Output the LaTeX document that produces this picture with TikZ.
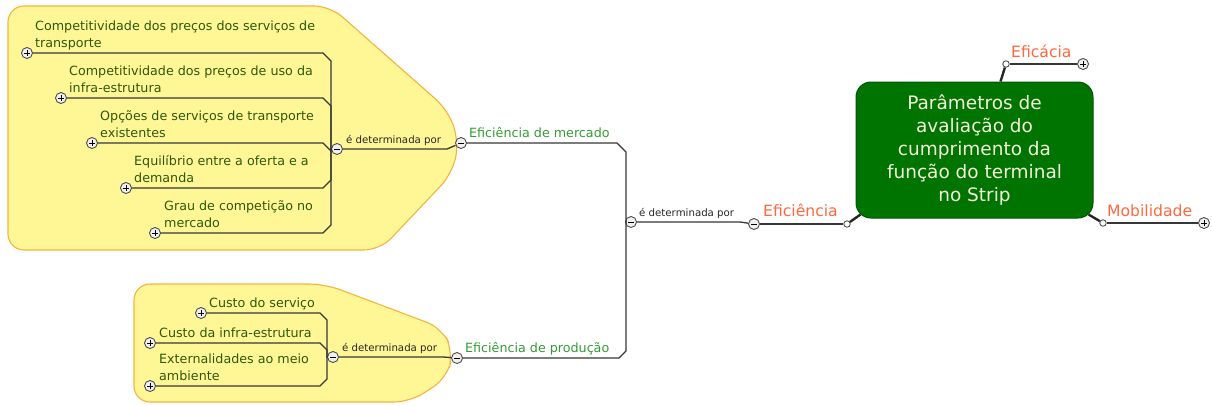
\documentclass[tikz,border=0pt]{standalone}
\usepackage{fontspec}
\setmainfont{DejaVu Sans}
\definecolor{blobfill}{RGB}{255,247,150}
\definecolor{blobdraw}{RGB}{246,178,62}
\definecolor{itemgreen}{RGB}{48,88,12}
\definecolor{midgreen}{RGB}{52,155,52}
\definecolor{orangetxt}{RGB}{255,104,62}
\definecolor{rootfill}{RGB}{0,116,0}
\definecolor{rootdraw}{RGB}{0,85,0}
\definecolor{roottxt}{RGB}{242,242,218}
\definecolor{linegray}{RGB}{55,55,55}
\begin{document}
\begin{tikzpicture}[x=1pt,y=-1pt,
  conn/.style={draw=linegray, line width=1.3pt},
  thickconn/.style={draw=black!85, line width=2.4pt},
  pm/.style={circle, draw=black!70, fill=black!6, line width=0.9pt, inner sep=0pt, minimum size=11pt},
  plusn/.style={pm, path picture={\draw[line width=1pt,black] ([xshift=-2.7pt]path picture bounding box.center) -- ([xshift=2.7pt]path picture bounding box.center) ([yshift=-2.7pt]path picture bounding box.center) -- ([yshift=2.7pt]path picture bounding box.center);}},
  minusn/.style={pm, path picture={\draw[line width=1pt,black] ([xshift=-2.7pt]path picture bounding box.center) -- ([xshift=2.7pt]path picture bounding box.center);}},
  dotn/.style={circle, draw=black!75, fill=white, line width=0.8pt, inner sep=0pt, minimum size=6.5pt},
  itemtxt/.style={anchor=south west, inner sep=0pt, align=left, text=itemgreen, font=\fontsize{12.7}{17}\selectfont, execute at end node=\strut},
  midtxt/.style={itemtxt, text=midgreen},
  orgtxt/.style={anchor=south west, inner sep=0pt, text=orangetxt, font=\fontsize{15.6}{20}\selectfont, execute at end node=\strut},
  lbl/.style={anchor=base west, inner sep=0pt, text=black!85, font=\fontsize{10.2}{12}\selectfont},
  blob/.style={fill=blobfill, draw=blobdraw, line width=1.1pt, rounded corners=16pt},
  rootn/.style={draw=rootdraw, fill=rootfill, line width=1pt, rounded corners=15pt, minimum width=237pt, minimum height=136pt, align=center, text=roottxt, font=\fontsize{18.5}{23}\selectfont, inner sep=0pt}
]
\useasboundingbox (0,0) rectangle (1212,405);
% background blobs
\path[blob] (8,6) -- (330,6) -- (448,110) -- (459,142) -- (452,174) -- (380,250) -- (8,250) -- cycle;
\path[blob] (134,284) -- (325,284) -- (442,328) -- (453,352) -- (447,378) -- (410,402) -- (134,402) -- cycle;

% root
\node[rootn] (root) at (974.5,150) {Parâmetros de\\avaliação do\\cumprimento da\\função do terminal\\no Strip};

% top group items
\node[plusn] (p1) at (27,53) {};
\node[plusn] (p2) at (61,98) {};
\node[plusn] (p3) at (92,143) {};
\node[plusn] (p4) at (126,188) {};
\node[plusn] (p5) at (155,233) {};
\node[itemtxt] (t1) at (35,53) {Competitividade dos preços dos serviços de\\transporte};
\node[itemtxt] (t2) at (69,98) {Competitividade dos preços de uso da\\infra-estrutura};
\node[itemtxt] (t3) at (100,143) {Opções de serviços de transporte\\existentes};
\node[itemtxt] (t4) at (134,188) {Equilíbrio entre a oferta e a\\demanda};
\node[itemtxt] (t5) at (164,233) {Grau de competição no\\mercado};
\node[minusn] (m1) at (337,149) {};
\draw[conn] (p1) -- (323,53) -- (331,61) |- (m1);
\draw[conn] (p2) -- (323,98) -- (331,106) |- (m1);
\draw[conn] (p3) -- (323,143) -- (331,151) |- (m1);
\draw[conn] (p4) -- (323,188) -- (331,180) |- (m1);
\draw[conn] (p5) -- (323,233) -- (331,225) |- (m1);

% bottom group items
\node[plusn] (q1) at (201,313) {};
\node[plusn] (q2) at (150,343) {};
\node[plusn] (q3) at (150,386) {};
\node[itemtxt] (u1) at (209,313) {Custo do serviço};
\node[itemtxt] (u2) at (159,343) {Custo da infra-estrutura};
\node[itemtxt] (u3) at (159,386) {Externalidades ao meio\\ambiente};
\node[minusn] (m2) at (333,357) {};
\draw[conn] (q1) -- (320,313) -- (327,320) |- (m2);
\draw[conn] (q2) -- (320,343) -- (327,350) |- (m2);
\draw[conn] (q3) -- (320,386) -- (327,379) |- (m2);

% middle level
\node[minusn] (mm) at (461,143) {};
\node[minusn] (mp) at (457,358) {};
\node[midtxt] (tmm) at (469,143) {Eficiência de mercado};
\node[midtxt] (tmp) at (465,358) {Eficiência de produção};
\node[lbl] (l1) at (346,143) {é determinada por};
\node[lbl] (l2) at (342,351) {é determinada por};
\draw[conn] (m1) -- (447,149) -- (mm);
\draw[conn] (m2) -- (443,357) -- (mp);

\node[minusn] (mid) at (631,222) {};
\draw[conn] (mm) -- (617,143) -- (626,152) |- (mid);
\draw[conn] (mp) -- (619,358) -- (626,351) |- (mid);
\node[lbl] (l3) at (639,216) {é determinada por};

\node[minusn] (ef) at (754,224) {};
\draw[conn] (mid) -- (740,222) -- (ef);
\node[orgtxt] (tef) at (763,223) {Eficiência};
\node[dotn] (d1) at (847,224) {};
\draw[conn] (ef) -- (d1);
\draw[thickconn] (d1) -- ([shift={(5pt,4pt)}]root.south west);

% Eficácia
\node[dotn] (d2) at (1006,64) {};
\node[plusn] (pe) at (1083,64) {};
\node[orgtxt] (tea) at (1011,63.5) {Eficácia};
\draw[thickconn] (d2) -- ([xshift=26pt]root.north);
\draw[conn] (d2) -- (pe);

% Mobilidade
\node[dotn] (d3) at (1103,223) {};
\node[plusn] (pmob) at (1204,223) {};
\node[orgtxt] (tmob) at (1107,222.5) {Mobilidade};
\draw[thickconn] (d3) -- ([shift={(-5pt,4pt)}]root.south east);
\draw[conn] (d3) -- (pmob);
\end{tikzpicture}
\end{document}
